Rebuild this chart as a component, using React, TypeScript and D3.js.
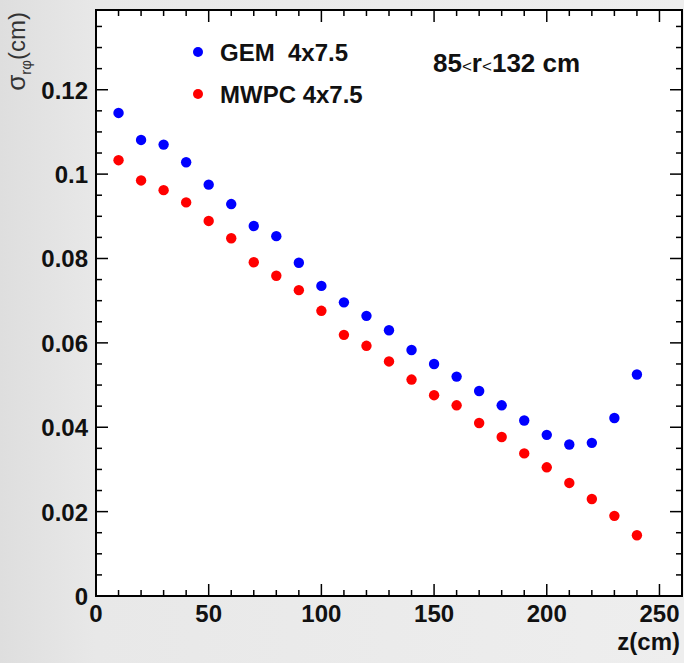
import React from 'react';
import * as d3 from 'd3';

// z positions (cm) of the measurements
const zValues = [10, 20, 30, 40, 50, 60, 70, 80, 90, 100, 110, 120, 130, 140, 150, 160, 170, 180, 190, 200, 210, 220, 230, 240];

// sigma_rphi (cm)
const gemValues = [0.1145, 0.1081, 0.107, 0.1028, 0.0975, 0.0929, 0.0877, 0.0853, 0.079, 0.0735, 0.0696, 0.0664, 0.063, 0.0583, 0.055, 0.052, 0.0486, 0.0452, 0.0416, 0.0382, 0.0359, 0.0363, 0.0422, 0.0525];
const mwpcValues = [0.1033, 0.0985, 0.0962, 0.0933, 0.0889, 0.0848, 0.0791, 0.0759, 0.0725, 0.0676, 0.0619, 0.0593, 0.0556, 0.0513, 0.0476, 0.0452, 0.041, 0.0377, 0.0338, 0.0305, 0.0268, 0.023, 0.019, 0.0144];

const seriesNames = ['GEM  4x7.5', 'MWPC 4x7.5'];
const seriesColors = ['#0000ff', '#ff0000'];

const xTicks = [0, 50, 100, 150, 200, 250];
const yTicks = [0, 0.02, 0.04, 0.06, 0.08, 0.1, 0.12];

const W = 684;
const H = 663;
const margin = { left: 96, top: 10, right: 2, bottom: 67 };
const FONT = 'Liberation Sans, Arial, Helvetica, sans-serif';

const App = () => {
  const x = d3.scaleLinear().domain([0, 260]).range([margin.left, W - margin.right]);
  const y = d3.scaleLinear().domain([0, 0.1389]).range([H - margin.bottom, margin.top]);
  const [x0, x1] = x.range();
  const [y0, y1] = y.range();

  const xMinor = d3.range(0, 261, 10);
  const yMinor = d3.range(0, 0.139, 0.005);

  const series = [gemValues, mwpcValues];

  return (
    <svg width={W} height={H} style={{ position: 'absolute', left: 0, top: 0 }} fontFamily={FONT}>
      <defs>
        <linearGradient id="bg" x1="0" x2="1" y1="0" y2="0">
          <stop offset="0" stopColor="#dedede" />
          <stop offset="0.14" stopColor="#e8e8e8" />
          <stop offset="1" stopColor="#eeeeee" />
        </linearGradient>
      </defs>
      <rect width={W} height={H} fill="url(#bg)" />
      <rect x={x0} y={y1} width={x1 - x0} height={y0 - y1} fill="#fff" />

      {/* ticks on all four sides */}
      <g stroke="#000" strokeWidth={1.5}>
        {xMinor.map((v) => {
          const len = v % 50 === 0 ? 12 : 6;
          return (
            <g key={`xt${v}`}>
              <line x1={x(v)} x2={x(v)} y1={y0} y2={y0 - len} />
              <line x1={x(v)} x2={x(v)} y1={y1} y2={y1 + len} />
            </g>
          );
        })}
        {yMinor.map((v, i) => {
          const len = i % 4 === 0 ? 12 : 6;
          return (
            <g key={`yt${i}`}>
              <line x1={x0} x2={x0 + len} y1={y(v)} y2={y(v)} />
              <line x1={x1} x2={x1 - len} y1={y(v)} y2={y(v)} />
            </g>
          );
        })}
      </g>
      <rect x={x0} y={y1} width={x1 - x0} height={y0 - y1} fill="none" stroke="#000" strokeWidth={2} />

      {/* tick labels */}
      <g fontSize={24} fontWeight="bold" fill="#111">
        {xTicks.map((v) => (
          <text key={`xl${v}`} x={x(v)} y={y0 + 26} textAnchor="middle">{v}</text>
        ))}
        {yTicks.map((v) => (
          <text key={`yl${v}`} x={88} y={y(v) + 9} textAnchor="end">{v === 0 ? '0' : String(+v.toFixed(2))}</text>
        ))}
      </g>

      {/* axis titles */}
      <text x={x1 - 2} y={650} textAnchor="end" fontSize={24} fontWeight="bold" fill="#111">z(cm)</text>
      <text transform="translate(25, 12) rotate(-90)" textAnchor="end" fontSize={24} fill="#333">
        <tspan fontSize={26}>σ</tspan><tspan fontSize={15} dy={6}>rφ</tspan><tspan dy={-6}>(cm)</tspan>
      </text>

      {/* points */}
      {series.map((vals, s) => (
        <g key={`s${s}`} fill={seriesColors[s]}>
          {vals.map((v, i) => (
            <circle key={i} cx={x(zValues[i])} cy={y(v)} r={5.2} />
          ))}
        </g>
      ))}

      {/* legend */}
      {seriesNames.map((name, s) => (
        <g key={`lg${s}`}>
          <circle cx={198} cy={52 + s * 42} r={5} fill={seriesColors[s]} />
          <text x={220} y={61 + s * 42} fontSize={24} fontWeight="bold" fill="#111" style={{ whiteSpace: 'pre' }}>{name}</text>
        </g>
      ))}

      <text x={433} y={72} fontSize={26} fontWeight="bold" fill="#111">
        85<tspan fontSize={17} fontWeight="normal">{'<'}</tspan>r<tspan fontSize={17} fontWeight="normal">{'<'}</tspan>132 cm
      </text>
    </svg>
  );
};

export default App;
